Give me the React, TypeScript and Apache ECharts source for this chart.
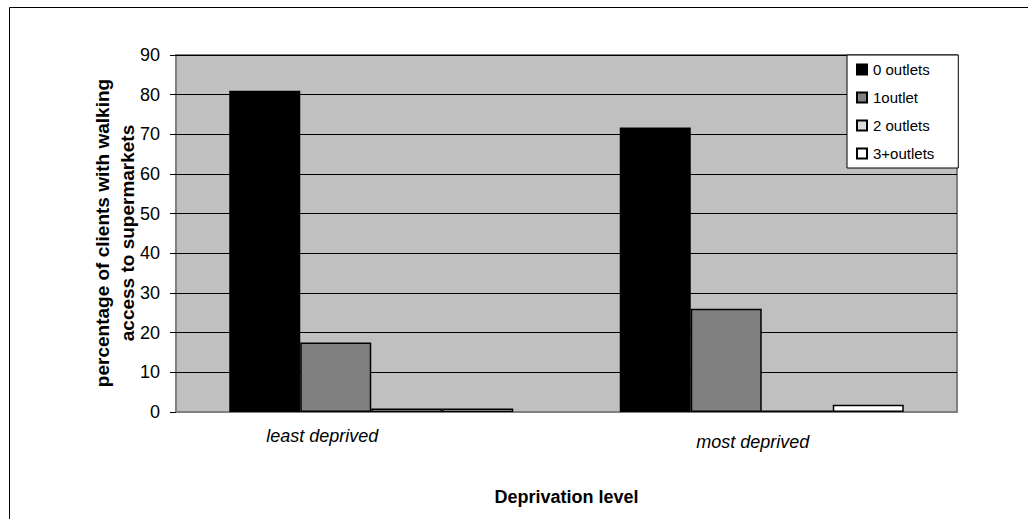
import React, { useEffect, useRef } from "react";
import * as echarts from "echarts";

const categories = ["least deprived", "most deprived"];
const seriesNames = ["0 outlets", "1outlet", "2 outlets", "3+outlets"];
const outlets0 = [81, 71.7];
const outlets1 = [17.5, 26];
const outlets2 = [0.9, 0.4];
const outlets3 = [0.9, 1.8];
const seriesColors = ["#000000", "#808080", "#dcdcdc", "#ffffff"];
const yTitleLines = ["percentage of clients with walking", "access to supermarkets"];

const FONT = "'Liberation Sans', Arial, sans-serif";

export default function App() {
  const ref = useRef<HTMLDivElement>(null);
  useEffect(() => {
    if (!ref.current) return;
    const chart = echarts.init(ref.current, undefined, { renderer: "svg" });
    const values = [outlets0, outlets1, outlets2, outlets3];
    chart.setOption({
      animation: false,
      backgroundColor: "#ffffff",
      textStyle: { fontFamily: FONT, color: "#000" },
      graphic: [
        {
          type: "rect",
          shape: { x: 9.5, y: 7.5, width: 1040, height: 540 },
          style: { fill: "none", stroke: "#000", lineWidth: 1 },
          silent: true,
        },
        ...yTitleLines.map((t, i) => ({
          type: "text",
          x: 102 + i * 25,
          y: 233,
          rotation: Math.PI / 2,
          silent: true,
          style: {
            text: t,
            fontFamily: FONT,
            fontSize: 19,
            fontWeight: "bold",
            fill: "#000",
            align: "center",
            verticalAlign: "middle",
          },
        })),
      ],
      grid: {
        left: 176,
        right: 71,
        top: 55,
        bottom: 107,
        show: true,
        backgroundColor: "#c0c0c0",
        borderColor: "#808080",
        borderWidth: 2,
      },
      legend: {
        orient: "vertical",
        left: 847,
        top: 55,
        padding: [7, 24, 7, 9],
        itemGap: 13,
        itemWidth: 10,
        itemHeight: 10,
        backgroundColor: "#ffffff",
        borderColor: "#000",
        borderWidth: 1,
        borderRadius: 0,
        icon: "rect",
        textStyle: { fontFamily: FONT, fontSize: 15, lineHeight: 15, color: "#000", padding: [0, 0, 0, 1] },
        data: seriesNames,
      },
      xAxis: {
        type: "category",
        data: categories,
        axisLine: { show: true, lineStyle: { color: "#808080", width: 2 } },
        axisTick: { show: false },
        axisLabel: {
          margin: 14,
          fontFamily: FONT,
          fontSize: 18,
          fontStyle: "italic",
          color: "#000",
          formatter: (v: string) => (v === categories[0] ? `{a|${v}}` : `{b|${v}}`),
          rich: {
            a: { fontFamily: FONT, fontSize: 18, fontStyle: "italic", lineHeight: 20, padding: [0, 98, 0, 0] },
            b: { fontFamily: FONT, fontSize: 18, fontStyle: "italic", lineHeight: 20, padding: [12, 18, 0, 0] },
          },
        },
        name: "Deprivation level",
        nameLocation: "middle",
        nameGap: 76,
        nameTextStyle: { fontFamily: FONT, fontSize: 18, fontWeight: "bold", color: "#000" },
      },
      yAxis: {
        type: "value",
        min: 0,
        max: 90,
        interval: 10,
        axisLine: { show: false },
        axisTick: { show: true, length: 6, lineStyle: { color: "#000", width: 1 } },
        axisLabel: { margin: 16, fontFamily: FONT, fontSize: 18, color: "#000" },
        splitLine: { show: true, lineStyle: { color: "#000", width: 1 } },
      },
      series: seriesNames.map((name, i) => ({
        name,
        type: "bar",
        data: values[i],
        barWidth: 71,
        barGap: "0%",
        itemStyle: {
          color: seriesColors[i],
          borderColor: "#000",
          borderWidth: 1.5,
        },
      })),
    });
    return () => chart.dispose();
  }, []);
  return (
    <div
      ref={ref}
      style={{ position: "fixed", left: 0, top: 0, width: 1028, height: 519 }}
    />
  );
}
